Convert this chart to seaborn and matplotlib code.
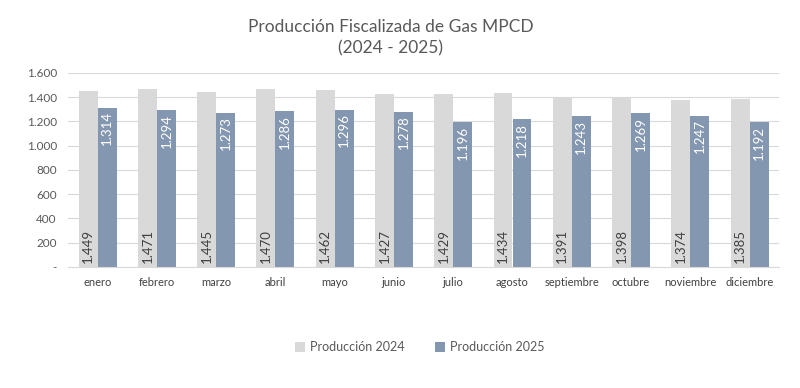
import pandas as pd
import numpy as np
import matplotlib
matplotlib.use('Agg')
import matplotlib.pyplot as plt
import seaborn as sns
from matplotlib.ticker import FuncFormatter, FixedLocator

# Data
months = ['enero', 'febrero', 'marzo', 'abril', 'mayo', 'junio', 'julio',
          'agosto', 'septiembre', 'octubre', 'noviembre', 'diciembre']
prod_2024 = [1449, 1471, 1445, 1470, 1462, 1427, 1429, 1434, 1391, 1398, 1374, 1385]
prod_2025 = [1314, 1294, 1273, 1286, 1296, 1278, 1196, 1218, 1243, 1269, 1247, 1192]
series = ['Producción 2024', 'Producción 2025']
colors = ['#D9D9D9', '#8497B0']

df = pd.DataFrame({
    'Mes': months * 2,
    'Valor': prod_2024 + prod_2025,
    'Serie': [series[0]] * len(months) + [series[1]] * len(months),
})

sns.set_style('white')
plt.rcParams['font.family'] = ['Lato', 'DejaVu Sans']

fig = plt.figure(figsize=(8, 3.88), dpi=100)
ax = fig.add_axes([0.085, 0.312, 0.889, 0.5])

sns.barplot(data=df, x='Mes', y='Valor', hue='Serie', palette=colors,
            width=0.64, gap=0, saturation=1, linewidth=0, ax=ax, legend=True)

fmt = lambda v: f'{v:,.0f}'.replace(',', '.')

# value labels
for cont, col, pos in zip(ax.containers, ['#404040', 'white'], ['base', 'top']):
    for bar in cont:
        h = bar.get_height()
        x = bar.get_x() + bar.get_width() / 2
        if pos == 'base':
            ax.text(x, 30, fmt(h), rotation=90, ha='center', va='bottom',
                    color=col, fontsize=9.5)
        else:
            ax.text(x, h - 30, fmt(h), rotation=90, ha='center', va='top',
                    color=col, fontsize=9.5)

ax.set_ylim(0, 1600)
ax.set_yticks(range(0, 1601, 200))
ax.yaxis.set_major_formatter(FuncFormatter(lambda v, p: '-' if v == 0 else fmt(v)))
ax.grid(axis='y', color='#D9D9D9', linewidth=0.8)
ax.set_axisbelow(True)
ax.set_xlim(-0.5, len(months) - 0.5)
ax.set_xlabel('')
ax.set_ylabel('')

for s in ['top', 'right', 'left']:
    ax.spines[s].set_visible(False)
ax.spines['bottom'].set_color('#D9D9D9')

ax.tick_params(axis='y', labelsize=8.5, colors='#595959', length=0, pad=8)
ax.tick_params(axis='x', labelsize=8, colors='#404040', length=0, pad=7)
ax.xaxis.set_minor_locator(FixedLocator(np.arange(-0.5, len(months), 1)))
ax.tick_params(axis='x', which='minor', length=5, color='#D9D9D9', width=0.8)

fig.text(0.488, 0.952, 'Producción Fiscalizada de Gas MPCD\n(2024 - 2025)',
         fontsize=12.5, color='#595959', ha='center', va='top', linespacing=1.4)

handles, labels = ax.get_legend_handles_labels()
ax.legend(handles, labels, loc='center', bbox_to_anchor=(0.495, -0.415),
          ncol=2, frameon=False, fontsize=9, handlelength=0.8, handleheight=0.8,
          columnspacing=2.4, handletextpad=0.4, labelcolor='#595959')

fig.savefig('out.png', dpi=100)
